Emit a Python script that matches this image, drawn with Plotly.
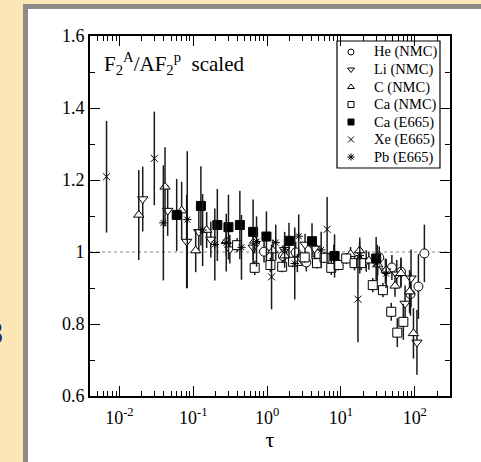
import numpy as np
import plotly.graph_objects as go

# ---- data ----
he_x = [0.91, 1.64, 2.44, 3.4, 4.8, 33, 49, 65, 87.5, 112, 135]
he_y = [1.001, 0.989, 0.999, 0.971, 0.994, 0.985, 0.957, 0.945, 0.883, 0.904, 0.996]
he_e = [0.03, 0.03, 0.03, 0.025, 0.025, 0.03, 0.035, 0.04, 0.06, 0.09, 0.08]

li_x = [0.0207, 0.0451, 0.0815, 0.119, 0.173, 0.313, 0.65, 1.73, 3.27, 4.4, 8.0, 22, 40, 57, 74, 89, 107]
li_y = [1.147, 1.115, 1.029, 1.056, 1.035, 1.008, 1.013, 1.006, 1.021, 1.010, 0.990, 0.975, 0.947, 0.938, 0.857, 0.927, 0.749]
li_e = [0.09, 0.07, 0.13, 0.06, 0.05, 0.04, 0.035, 0.03, 0.03, 0.03, 0.03, 0.03, 0.035, 0.04, 0.05, 0.08, 0.09]

c_x = [0.0183, 0.0415, 0.0697, 0.108, 0.152, 0.28, 0.68, 1.2, 1.73, 2.57, 13.5, 17.9, 23.9, 31.5, 41, 54, 65, 85, 96]
c_y = [1.103, 1.181, 1.115, 1.004, 1.061, 1.030, 1.031, 1.004, 0.990, 0.969, 0.994, 1.004, 0.976, 0.965, 0.950, 0.906, 0.941, 0.890, 0.774]
c_e = [0.125, 0.11, 0.08, 0.06, 0.05, 0.04, 0.035, 0.03, 0.025, 0.025, 0.02, 0.025, 0.025, 0.03, 0.03, 0.03, 0.04, 0.06, 0.07]

ca_x = [0.393, 0.68, 1.11, 1.6, 2.25, 3.23, 4.74, 6.0, 7.4, 9.3, 11.8, 15.3, 18.8, 27, 37, 48, 58, 70]
ca_y = [1.019, 0.956, 0.964, 0.959, 0.973, 0.985, 0.969, 0.984, 0.956, 0.964, 0.982, 0.969, 0.969, 0.908, 0.894, 0.834, 0.776, 0.806]
ca_e = [0.02, 0.02, 0.02, 0.015, 0.015, 0.015, 0.015, 0.015, 0.02, 0.015, 0.015, 0.02, 0.02, 0.02, 0.02, 0.025, 0.04, 0.05]

cae_x = [0.0597, 0.127, 0.212, 0.30, 0.428, 0.647, 0.98, 1.98, 4.06, 8.2, 30]
cae_y = [1.103, 1.128, 1.075, 1.069, 1.075, 1.056, 1.043, 1.031, 1.030, 0.989, 0.982]
cae_e = [0.10, 0.11, 0.10, 0.09, 0.095, 0.09, 0.07, 0.05, 0.05, 0.06, 0.06]

xe_x = [0.0067, 0.0297, 1.15, 6.5, 17]
xe_y = [1.209, 1.260, 0.931, 1.063, 0.869]
xe_e = [0.155, 0.13, 0.09, 0.09, 0.12]

pb_x = [0.0394, 0.083, 0.134, 0.196, 0.28, 0.45, 0.72, 1.31, 1.73, 2.37, 2.68, 5.4, 18, 31, 41]
pb_y = [1.081, 1.090, 1.061, 1.021, 1.026, 1.013, 1.029, 1.026, 1.006, 0.968, 1.044, 1.006, 0.990, 0.970, 0.940]
pb_e = [0.16, 0.19, 0.10, 0.10, 0.08, 0.09, 0.07, 0.05, 0.05, 0.10, 0.06, 0.05, 0.05, 0.05, 0.04]

series_names = ["He (NMC)", "Li (NMC)", "C (NMC)", "Ca (NMC)", "Ca (E665)", "Xe (E665)", "Pb (E665)"]
series_data = [(he_x, he_y, he_e), (li_x, li_y, li_e), (c_x, c_y, c_e), (ca_x, ca_y, ca_e),
               (cae_x, cae_y, cae_e), (xe_x, xe_y, xe_e), (pb_x, pb_y, pb_e)]
series_symbols = ["circle", "triangle-down", "triangle-up", "square", "square", "x-thin-open", "asterisk-open"]
series_fills = ["white", "white", "white", "white", "black", "black", "black"]

x_major = [0.01, 0.1, 1, 10, 100]
x_major_text = ["10<sup>-2</sup>", "10<sup>-1</sup>", "10<sup>0</sup>", "10<sup>1</sup>", "10<sup>2</sup>"]
y_major = [0.6, 0.8, 1.0, 1.2, 1.4, 1.6]
y_major_text = ["0.6", "0.8", "1", "1.2", "1.4", "1.6"]

SERIF = "Liberation Serif"
W, H = 481, 462
L, R, T, B = 90, 31, 36, 66
pw, ph = W - L - R, H - T - B


def px(xp):
    return (xp - L) / pw


def py(yp):
    return (H - B - yp) / ph


fig = go.Figure()

# slide background: gray frame and white panel
fig.add_shape(type="rect", xref="paper", yref="paper", x0=px(23), x1=px(490),
              y0=py(470), y1=py(4), fillcolor="#8e8c88", line_width=0, layer="below")
fig.add_shape(type="rect", xref="paper", yref="paper", x0=px(28), x1=px(490),
              y0=py(470), y1=py(9), fillcolor="white", line_width=0, layer="below")

# reference line at 1
fig.add_shape(type="line", xref="paper", yref="y", x0=0, x1=1, y0=1, y1=1,
              line=dict(color="#888888", width=1, dash="dot"), layer="below")

for name, (xs, ys, es), sym, fill in zip(series_names, series_data, series_symbols, series_fills):
    open_sym = sym.endswith("-open")
    fig.add_trace(go.Scatter(
        x=xs, y=ys, mode="markers", name=name, showlegend=False,
        marker=dict(symbol=sym, size=9 if not open_sym else 7,
                    color=fill if not open_sym else "black",
                    line=dict(color="black", width=1)),
        error_y=dict(type="data", array=es, visible=True, width=0,
                     thickness=1.5, color="#1a1a1a"),
    ))

# ---- manual legend (box, symbols on an overlay pixel axis, labels) ----
leg_left, leg_right, leg_top, leg_bot = 337, 440, 41, 168
leg_y0, leg_dy = 52, 17.5
leg_mx, leg_tx = 351, 372
fig.add_shape(type="rect", xref="paper", yref="paper",
              x0=px(leg_left), x1=px(leg_right), y0=py(leg_bot), y1=py(leg_top),
              fillcolor="rgba(0,0,0,0)", line=dict(color="black", width=1.2), layer="above")
for i, (name, sym, fill) in enumerate(zip(series_names, series_symbols, series_fills)):
    yy = leg_y0 + i * leg_dy
    open_sym = sym.endswith("-open")
    fig.add_trace(go.Scatter(
        x=[leg_mx], y=[yy], xaxis="x2", yaxis="y2", mode="markers", showlegend=False,
        hoverinfo="skip",
        marker=dict(symbol=sym, size=6, color=fill if not open_sym else "black",
                    line=dict(color="black", width=1)),
    ))
    fig.add_annotation(xref="paper", yref="paper", x=px(leg_tx), y=py(yy),
                       xanchor="left", yanchor="middle", text=name, showarrow=False,
                       font=dict(family=SERIF, size=14.5, color="black"))

minor_x = []
for d in [-3, -2, -1, 0, 1, 2]:
    for m in range(2, 10):
        minor_x.append(m * 10.0 ** d)

fig.update_layout(
    xaxis=dict(
        type="log", range=[np.log10(0.004), np.log10(300)],
        tickmode="array", tickvals=x_major, ticktext=x_major_text,
        ticks="inside", ticklen=10, tickwidth=1.3, tickcolor="black",
        minor=dict(tickmode="array", tickvals=minor_x, ticks="inside", ticklen=5,
                   tickwidth=1.3, tickcolor="black", showgrid=False),
        showline=True, linecolor="black", linewidth=1.8, mirror="allticks",
        showgrid=False, zeroline=False, ticklabelstandoff=4,
        tickfont=dict(family=SERIF, size=18, color="black"),
        title=dict(text="τ", font=dict(family=SERIF, size=22, color="black"), standoff=0),
    ),
    yaxis=dict(
        range=[0.6, 1.6],
        tickmode="array", tickvals=y_major, ticktext=y_major_text,
        ticks="inside", ticklen=10, tickwidth=1.3, tickcolor="black",
        minor=dict(tickmode="array", tickvals=[0.7, 0.9, 1.1, 1.3, 1.5], ticks="inside",
                   ticklen=5, tickwidth=1.3, tickcolor="black", showgrid=False),
        showline=True, linecolor="black", linewidth=1.8, mirror="allticks",
        showgrid=False, zeroline=False,
        tickfont=dict(family=SERIF, size=18, color="black"),
    ),
    xaxis2=dict(overlaying="x", range=[L, W - R], visible=False, fixedrange=True),
    yaxis2=dict(overlaying="y", range=[H - B, T], visible=False, fixedrange=True),
)

fig.add_annotation(xref="paper", yref="paper", x=px(102), y=py(64), xanchor="left", yanchor="middle",
                   text="F<sub>2</sub><sup>A</sup>/AF<sub>2</sub><sup>p</sup>  scaled", showarrow=False,
                   font=dict(family=SERIF, size=21, color="black"))

fig.add_annotation(xref="paper", yref="paper", x=px(5), y=py(333), xanchor="right", yanchor="middle",
                   text="<b>8</b>", showarrow=False,
                   font=dict(family="Liberation Sans", size=32, color="#23238c"))

fig.update_layout(
    width=W, height=H,
    margin=dict(l=L, r=R, t=T, b=B),
    font=dict(family=SERIF, color="black"),
    paper_bgcolor="#fde6b6", plot_bgcolor="white",
    showlegend=False,
)

fig.write_html("out.html")
